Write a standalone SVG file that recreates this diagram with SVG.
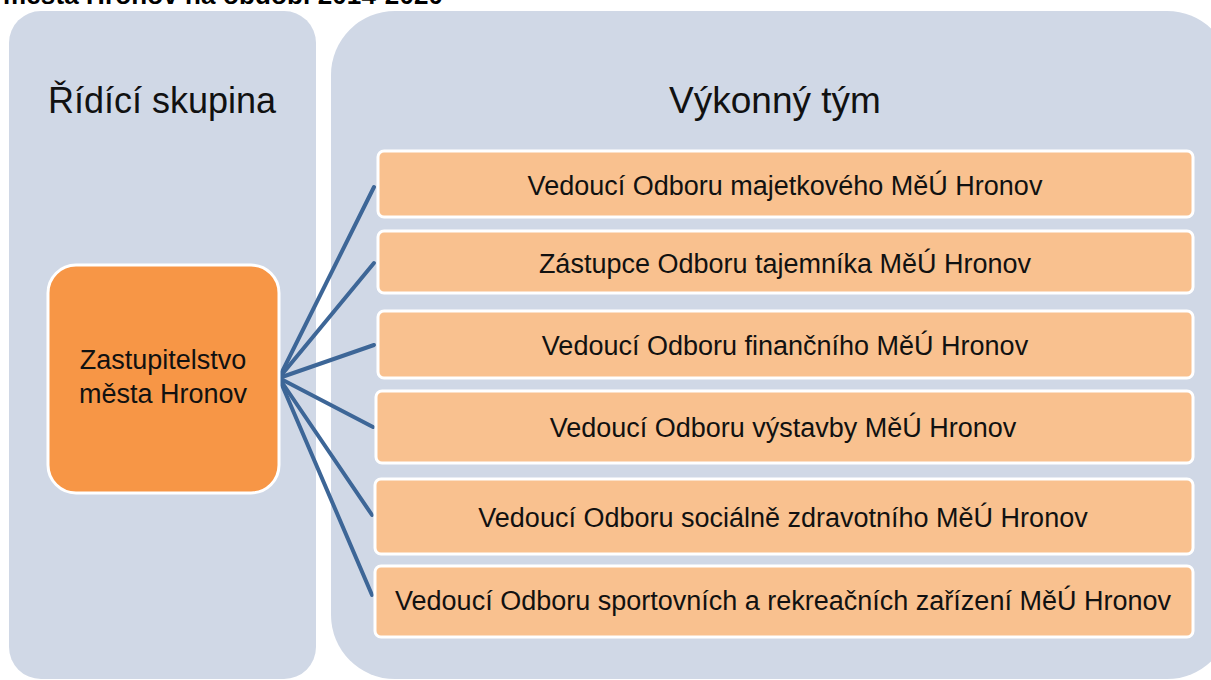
<svg xmlns="http://www.w3.org/2000/svg" width="1211" height="680" viewBox="0 0 1211 680">
<style>
.panel{fill:#D0D8E6}
.t{font-family:"Liberation Sans",Arial,sans-serif;fill:#111;text-anchor:middle}
.box{fill:#F9C18F;stroke:#fff;stroke-width:3}
.hub{fill:#F79646;stroke:#fff;stroke-width:3}
.con{stroke:#3D6697;stroke-width:4;fill:none;stroke-linecap:round}
</style>
<rect width="1211" height="680" fill="#fff"/>
<text x="3" y="4" font-family="Liberation Sans,Arial,sans-serif" font-weight="bold" font-size="26" fill="#000" textLength="440">města Hronov na období 2014-2020</text>
<g id="ridici-skupina">
<rect class="panel" x="9" y="11" width="307" height="668" rx="32"/>
<text class="t" x="162" y="113" font-size="36">Řídící skupina</text>
</g>
<g id="vykonny-tym">
<rect class="panel" x="331" y="11" width="900" height="668" rx="64"/>
<text class="t" x="775" y="113" font-size="37">Výkonný tým</text>
</g>
<g id="connectors">
<line class="con" x1="279" y1="378" x2="374" y2="187"/>
<line class="con" x1="279" y1="378" x2="374" y2="263"/>
<line class="con" x1="279" y1="378" x2="374" y2="345"/>
<line class="con" x1="279" y1="378" x2="373" y2="427"/>
<line class="con" x1="279" y1="378" x2="372" y2="515"/>
<line class="con" x1="279" y1="378" x2="372" y2="595"/>
</g>
<g id="zastupitelstvo">
<rect class="hub" x="48" y="265" width="231" height="228" rx="28"/>
<text class="t" x="163" y="369" font-size="27">Zastupitelstvo</text>
<text class="t" x="163" y="403" font-size="27">města Hronov</text>
</g>
<g id="n1"><rect class="box" x="378" y="151" width="815" height="66" rx="6"/><text class="t" x="785" y="195" font-size="27">Vedoucí Odboru majetkového MěÚ Hronov</text></g>
<g id="n2"><rect class="box" x="378" y="231" width="815" height="62" rx="6"/><text class="t" x="785" y="273" font-size="27">Zástupce Odboru tajemníka MěÚ Hronov</text></g>
<g id="n3"><rect class="box" x="378" y="311" width="815" height="67" rx="6"/><text class="t" x="785" y="355" font-size="27">Vedoucí Odboru finančního MěÚ Hronov</text></g>
<g id="n4"><rect class="box" x="376" y="391" width="817" height="72" rx="6"/><text class="t" x="783" y="437" font-size="27">Vedoucí Odboru výstavby MěÚ Hronov</text></g>
<g id="n5"><rect class="box" x="375" y="479" width="818" height="75" rx="6"/><text class="t" x="783" y="527" font-size="27">Vedoucí Odboru sociálně zdravotního MěÚ Hronov</text></g>
<g id="n6"><rect class="box" x="375" y="566" width="818" height="71" rx="6"/><text class="t" x="783" y="610" font-size="27">Vedoucí Odboru sportovních a rekreačních zařízení MěÚ Hronov</text></g>
</svg>
